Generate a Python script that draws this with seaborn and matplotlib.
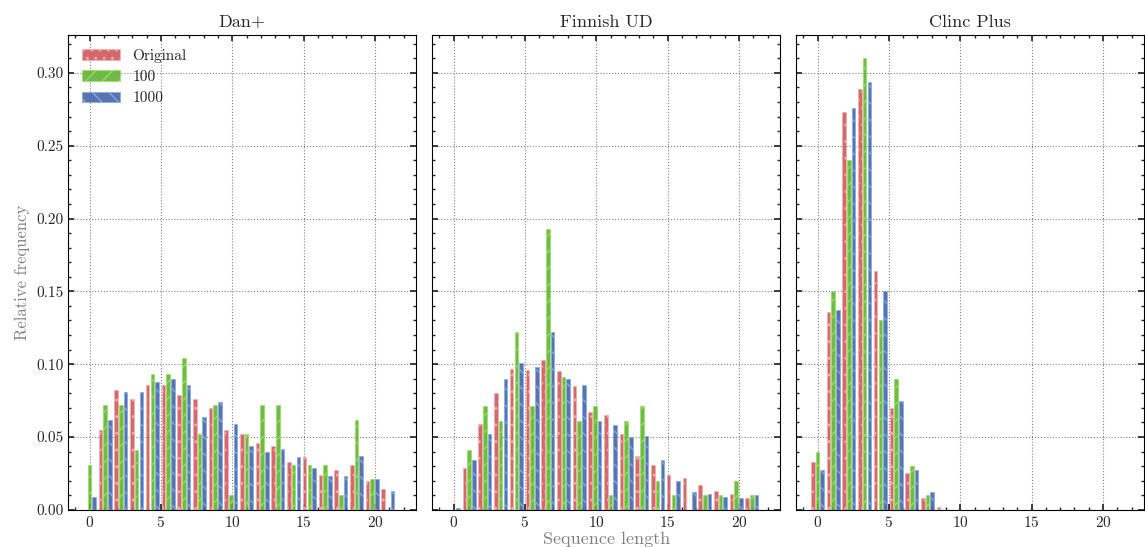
import numpy as np
import matplotlib
matplotlib.use("Agg")
import matplotlib.pyplot as plt
import seaborn as sns
from matplotlib.ticker import AutoMinorLocator

sns.set_theme(style="ticks")
plt.rcParams['font.family'] = ['cmr10', 'DejaVu Serif']
plt.rcParams['axes.formatter.use_mathtext'] = True
plt.rcParams['hatch.linewidth'] = 1.0

titles = ["Dan+", "Finnish UD", "Clinc Plus"]
series = ["Original", "100", "1000"]
bin_step = 1.1

dan_orig = [0, .055, .082, .076, .086, .086, .079, .076, .070, .055, .052, .046, .044, .033, .036, .024, .027, .031, .020, .014]
dan_100 = [.031, .072, .072, .041, .093, .093, .104, .052, .072, .010, .052, .072, .072, .031, .031, .031, .010, .062, .021, 0]
dan_1000 = [.009, .062, .081, .081, .088, .090, .086, .064, .074, .059, .044, .040, .042, .036, .029, .023, .023, .037, .021, .013]

fin_orig = [0, .029, .059, .080, .097, .096, .103, .095, .085, .067, .065, .052, .037, .031, .024, .022, .017, .013, .011, .008]
fin_100 = [0, .041, .071, .061, .122, .071, .193, .091, .061, .071, .010, .061, .071, .020, .010, 0, .010, .010, .020, .010]
fin_1000 = [.001, .034, .052, .090, .101, .098, .122, .090, .086, .061, .058, .050, .051, .034, .020, .012, .011, .009, .008, .010]

clinc_orig = [.033, .136, .273, .289, .164, .070, .025, .008, .002] + [0] * 11
clinc_100 = [.040, .150, .240, .310, .130, .090, .030, .010, 0] + [0] * 11
clinc_1000 = [.027, .137, .276, .294, .150, .075, .027, .012, 0] + [0] * 11

panels = [
    (dan_orig, dan_100, dan_1000),
    (fin_orig, fin_100, fin_1000),
    (clinc_orig, clinc_100, clinc_1000),
]

colors = ["#d0585a", "#5fb23a", "#4a62a8"]
edges = ["#f0b0b0", "#9be05a", "#7fb0e8"]
hatches = ["..", "//", "\\\\"]
offsets = [-0.33, 0.0, 0.33]

fig, axes = plt.subplots(1, 3, figsize=(11.45, 5.47), dpi=100, sharey=True)
fig.subplots_adjust(left=0.0595, right=0.9995, top=0.936, bottom=0.068, wspace=0.045)

for ax, title, data in zip(axes, titles, panels):
    x = np.arange(len(data[0])) * bin_step
    for k in range(3):
        ax.bar(x + offsets[k], data[k], width=0.25, color=colors[k], alpha=0.9,
               edgecolor=edges[k], linewidth=0.6, hatch=hatches[k], label=series[k])
    ax.set_title(title, fontsize=13)
    ax.set_xlim(-1.5, 22.9)
    ax.set_ylim(0, 0.326)
    ax.set_xticks([0, 5, 10, 15, 20])
    ax.set_yticks(np.arange(0, 0.31, 0.05))
    ax.xaxis.set_minor_locator(AutoMinorLocator(5))
    ax.yaxis.set_minor_locator(AutoMinorLocator(5))
    ax.tick_params(which='both', direction='in', top=True, right=True, labelsize=11)
    ax.tick_params(which='major', length=4)
    ax.tick_params(which='minor', length=2)
    ax.grid(True, linestyle=':', color='gray', linewidth=0.8)
    ax.set_axisbelow(True)
    for s in ax.spines.values():
        s.set_color('black')
        s.set_linewidth(0.8)

axes[0].yaxis.set_major_formatter(matplotlib.ticker.FormatStrFormatter('%.2f'))
axes[0].set_ylabel("Relative frequency", color='gray', fontsize=12)
axes[0].legend(loc='upper left', frameon=False, fontsize=11, handlelength=2.5)
fig.text(0.53, 0.0, "Sequence length", ha='center', va='bottom', color='gray', fontsize=13)

fig.savefig("out.png", dpi=100)
